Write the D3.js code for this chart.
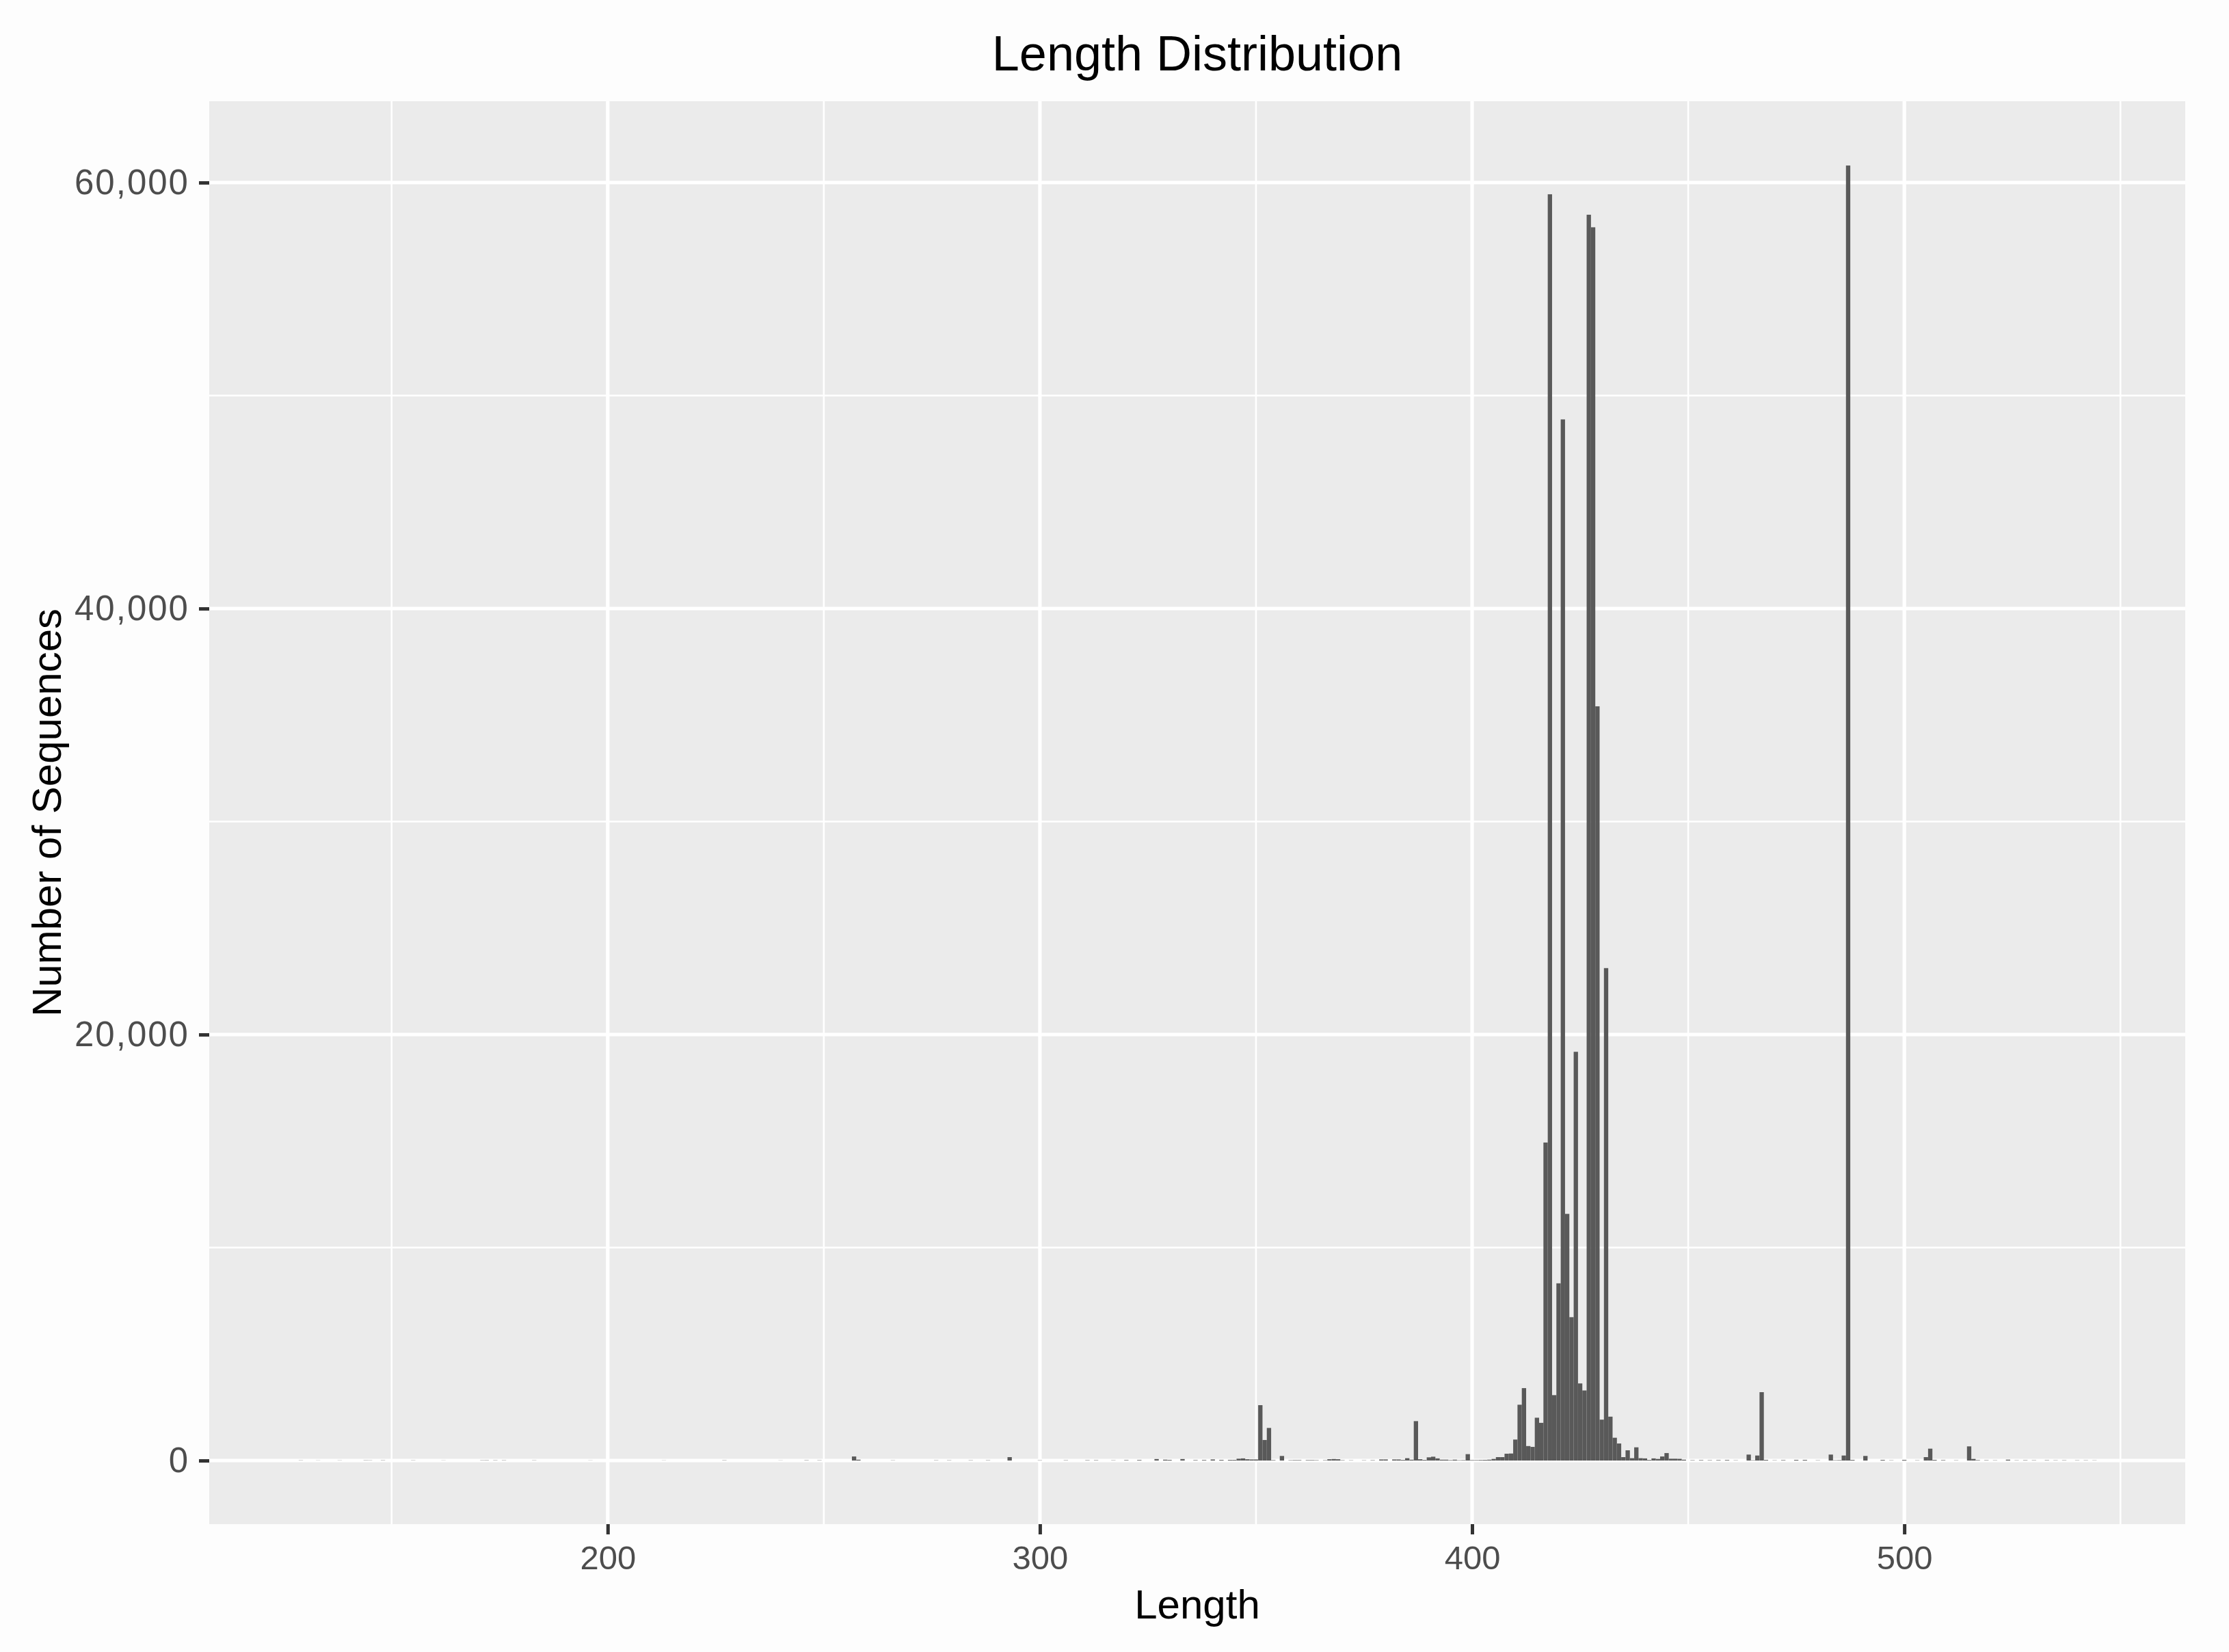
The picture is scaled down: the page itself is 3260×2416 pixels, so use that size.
<!DOCTYPE html>
<html>
<head>
<meta charset="utf-8">
<script src="https://cdn.jsdelivr.net/npm/d3@7"></script>
<style>
  html, body { margin: 0; padding: 0; background: #fdfdfd; }
  svg { display: block; }
</style>
</head>
<body>
<script>
// ---- Data ----
const lengths = [129,133,138,144,145,148,155,162,171,172,174,176,183,196,213,227,240,246,249,257,258,266,276,279,284,288,293,300,306,311,313,317,320,323,327,329,330,333,336,338,340,342,344,345,346,347,348,349,350,351,352,353,354,356,358,359,360,362,363,364,366,367,368,369,370,372,375,377,379,380,382,383,384,385,386,387,388,389,390,391,392,393,394,395,396,397,398,399,400,401,402,403,404,405,406,407,408,409,410,411,412,413,414,415,416,417,418,419,420,421,422,423,424,425,426,427,428,429,430,431,432,433,434,435,436,437,438,439,440,441,442,443,444,445,446,447,448,449,451,453,455,457,459,461,464,465,466,467,468,470,472,475,477,480,483,484,485,486,487,488,491,495,497,500,503,505,506,507,509,512,515,516,517,519,521,524,526,528,530,533,535,537,540,542,544];
const counts  = [8,5,6,10,8,10,8,5,10,12,10,10,8,5,5,10,5,12,10,190,40,8,10,10,10,12,160,10,12,15,15,10,20,25,70,40,30,70,20,25,50,30,30,30,86,100,60,50,50,2600,964,1530,20,214,15,20,20,20,20,15,15,60,70,60,15,10,10,15,50,50,50,50,30,110,40,1850,60,30,150,180,100,40,40,20,40,15,20,300,20,20,25,30,40,75,160,160,320,330,985,2620,3400,680,640,2010,1770,14930,59450,3070,8320,48880,11580,6730,19190,3620,3290,58490,57900,35410,1920,23120,2060,1070,800,160,480,110,620,110,100,30,100,75,190,350,85,85,80,40,15,20,15,20,25,10,280,15,235,3210,30,10,20,30,30,10,280,15,20,235,60800,30,215,30,10,30,10,160,557,30,20,10,665,75,20,15,10,40,10,15,12,15,10,12,10,10,8];

const xMajorTicks = [200, 300, 400, 500];
const xMinorTicks = [150, 250, 350, 450, 550];
const yMajorTicks = [0, 20000, 40000, 60000];
const yMinorTicks = [10000, 30000, 50000];

const titleText = "Length Distribution";
const xTitle = "Length";
const yTitle = "Number of Sequences";

// ---- Layout ----
const W = 3260, H = 2416;
const panel = { left: 306, right: 3196, top: 148, bottom: 2229 };
const FONT = "'Liberation Sans', Arial, Helvetica, sans-serif";

const svg = d3.select("body").append("svg")
  .attr("width", W).attr("height", H);

svg.append("rect").attr("width", W).attr("height", H).attr("fill", "#fdfdfd");

const x = d3.scaleLinear().domain([107.8, 565.0]).range([panel.left, panel.right]);
const y = d3.scaleLinear().domain([-2986, 63820]).range([panel.bottom, panel.top]);

// panel background
svg.append("rect")
  .attr("x", panel.left).attr("y", panel.top)
  .attr("width", panel.right - panel.left).attr("height", panel.bottom - panel.top)
  .attr("fill", "#ebebeb");

const grid = svg.append("g");
// minor grid
grid.selectAll(".xminor").data(xMinorTicks).enter().append("line")
  .attr("x1", d => x(d)).attr("x2", d => x(d))
  .attr("y1", panel.top).attr("y2", panel.bottom)
  .attr("stroke", "#ffffff").attr("stroke-width", 2.6);
grid.selectAll(".yminor").data(yMinorTicks).enter().append("line")
  .attr("y1", d => y(d)).attr("y2", d => y(d))
  .attr("x1", panel.left).attr("x2", panel.right)
  .attr("stroke", "#ffffff").attr("stroke-width", 2.6);
// major grid
grid.selectAll(".xmajor").data(xMajorTicks).enter().append("line")
  .attr("x1", d => x(d)).attr("x2", d => x(d))
  .attr("y1", panel.top).attr("y2", panel.bottom)
  .attr("stroke", "#ffffff").attr("stroke-width", 5.2);
grid.selectAll(".ymajor").data(yMajorTicks).enter().append("line")
  .attr("y1", d => y(d)).attr("y2", d => y(d))
  .attr("x1", panel.left).attr("x2", panel.right)
  .attr("stroke", "#ffffff").attr("stroke-width", 5.2);

// bars
const data = lengths.map((L, i) => ({ L, c: counts[i] }));
svg.append("g").selectAll("rect").data(data).enter().append("rect")
  .attr("x", d => x(d.L - 0.5))
  .attr("width", d => x(d.L + 0.5) - x(d.L - 0.5))
  .attr("y", d => y(d.c))
  .attr("height", d => y(0) - y(d.c))
  .attr("fill", "#595959");

// x axis
const xAxis = d3.axisBottom(x).tickValues(xMajorTicks).tickSize(15).tickPadding(16)
  .tickFormat(d3.format("d"));
const gx = svg.append("g").attr("transform", `translate(0,${panel.bottom})`).call(xAxis);
gx.select(".domain").remove();
gx.selectAll(".tick line").attr("stroke", "#333333").attr("stroke-width", 5);
gx.selectAll(".tick text").attr("fill", "#4d4d4d")
  .style("font-family", FONT).style("font-size", "49px");

// y axis
const yAxis = d3.axisLeft(y).tickValues(yMajorTicks).tickSize(15).tickPadding(14)
  .tickFormat(d3.format(","));
const gy = svg.append("g").attr("transform", `translate(${panel.left},0)`).call(yAxis);
gy.select(".domain").remove();
gy.selectAll(".tick line").attr("stroke", "#333333").attr("stroke-width", 5);
gy.selectAll(".tick text").attr("fill", "#4d4d4d")
  .style("font-family", FONT).style("font-size", "51px").style("letter-spacing", "2px");

// title
svg.append("text")
  .attr("x", (panel.left + panel.right) / 2).attr("y", 103)
  .attr("text-anchor", "middle")
  .style("font-family", FONT).style("font-size", "72px").attr("fill", "#000")
  .text(titleText);

// x title
svg.append("text")
  .attr("x", (panel.left + panel.right) / 2).attr("y", 2367)
  .attr("text-anchor", "middle")
  .style("font-family", FONT).style("font-size", "60px").attr("fill", "#000")
  .text(xTitle);

// y title
svg.append("text")
  .attr("transform", `translate(89,${(panel.top + panel.bottom) / 2}) rotate(-90)`)
  .attr("text-anchor", "middle")
  .style("font-family", FONT).style("font-size", "60px").attr("fill", "#000")
  .text(yTitle);
</script>
</body>
</html>
